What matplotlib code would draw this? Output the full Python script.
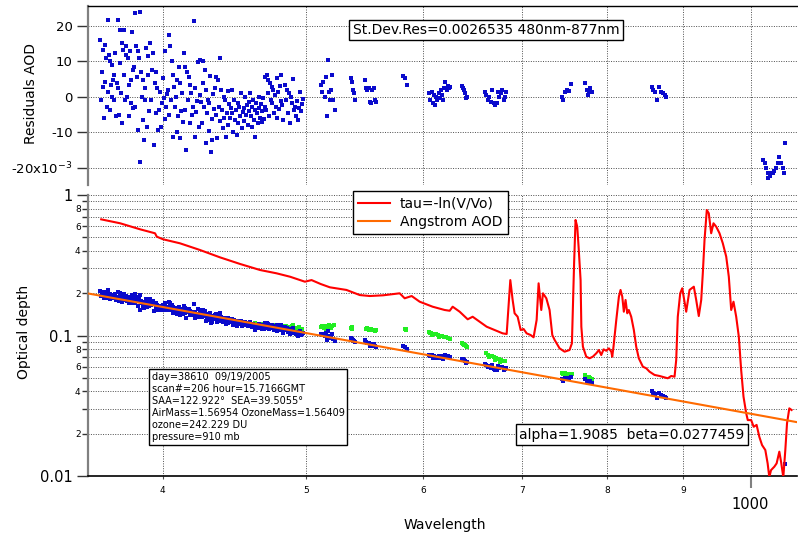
import numpy as np
import matplotlib.pyplot as plt
from matplotlib.ticker import FixedLocator, FixedFormatter
from matplotlib.lines import Line2D

plt.rcParams['font.family'] = 'DejaVu Sans'

# Angstrom fit shown in the annotation box
alpha = 1.9085
beta = 0.0277459

# Residuals of the fit (units of 1e-3) at each channel wavelength (nm)
resid_wl = [
    # 363-373
    363.0, 363.4, 363.8, 364.2, 364.6, 365.0, 365.4, 365.8, 366.2, 366.6, 367.0, 367.4,
    367.8, 368.2, 368.6, 369.0, 369.4, 369.8, 370.2, 370.6, 371.0, 371.4, 371.8, 372.3,
    # 373-382
    372.8, 373.2, 373.6, 374.0, 374.4, 374.8, 375.2, 375.6, 376.0, 376.4, 376.8, 377.2,
    377.6, 378.0, 378.4, 378.8, 379.2, 379.6, 380.0, 380.4, 380.8, 381.2, 381.6, 382.0,
    # 382-392
    382.4, 382.9, 383.3, 383.7, 384.2, 384.6, 385.0, 385.5, 385.9, 386.3, 386.7, 387.2,
    387.6, 388.0, 388.5, 388.9, 389.3, 389.8, 390.2, 390.7, 391.1, 391.6,
    # 392-403
    392.3, 392.8, 393.4, 393.9, 394.5, 395.0, 395.6, 396.1, 396.7, 397.2, 397.8, 398.3,
    398.9, 399.4, 400.0, 400.5, 401.1, 401.6, 402.2, 402.7,
    # 403-413
    403.2, 403.7, 404.2, 404.7, 405.2, 405.7, 406.2, 406.7, 407.2, 407.7, 408.2, 408.7,
    409.2, 409.7, 410.2, 410.7, 411.2, 411.7, 412.2, 412.7,
    # 413-424
    413.2, 413.8, 414.3, 414.9, 415.4, 416.0, 416.5, 417.1, 417.6, 418.2, 418.7, 419.3,
    419.8, 420.4, 420.9, 421.5, 422.0, 422.6, 423.1, 423.7,
    # 424-434
    424.2, 424.7, 425.2, 425.7, 426.2, 426.7, 427.2, 427.7, 428.2, 428.7, 429.2, 429.7,
    430.2, 430.7, 431.2, 431.7, 432.2, 432.7, 433.2, 433.7,
    # 434-445
    434.3, 434.8, 435.4, 435.9, 436.5, 437.0, 437.6, 438.1, 438.7, 439.2, 439.8, 440.3,
    440.9, 441.4, 442.0, 442.5, 443.1, 443.6, 444.2, 444.7,
    # 445-458
    445.3, 445.9, 446.5, 447.1, 447.7, 448.3, 448.9, 449.5, 450.1, 450.7, 451.3, 451.9,
    452.5, 453.1, 453.7, 454.3, 454.9, 455.5, 456.1, 456.7, 457.3, 457.9,
    # 458-469
    458.3, 458.9, 459.4, 460.0, 460.5, 461.1, 461.6, 462.2, 462.7, 463.3, 463.8, 464.4,
    464.9, 465.5, 466.0, 466.6, 467.1, 467.7, 468.2, 468.8,
    # 469-481
    469.2, 469.8, 470.4, 471.0, 471.6, 472.2, 472.8, 473.4, 474.0, 474.6, 475.2, 475.8,
    476.4, 477.0, 477.6, 478.2, 478.8, 479.4, 480.0, 480.6,
    # 481-498
    481.2, 482.0, 482.8, 483.6, 484.4, 485.2, 486.0, 486.8, 487.6, 488.4, 489.2, 490.0,
    490.8, 491.6, 492.4, 493.2, 494.0, 494.8, 495.6, 496.4, 497.2, 498.0,
    # isolated channel groups
    512.0, 512.9, 513.8, 514.7, 515.6, 516.5, 517.4, 518.3, 519.2, 520.1, 521.0, 521.9, 522.8,
    536.4, 537.2, 538.0, 538.8, 539.6,
    548.0, 549.1, 550.2, 551.3, 552.4, 553.5, 554.6, 555.7, 556.8, 557.9,
    581.5, 583.5, 585.5,
    606.0, 607.1, 608.2, 609.3, 610.4, 611.5, 612.6, 613.7, 614.8, 615.9, 617.0, 618.1, 619.2,
    620.3, 621.4, 622.5, 623.6, 624.7, 625.8,
    638.0, 639.0, 640.0, 641.0, 642.0, 643.0,
    661.0, 662.5, 664.0, 665.5, 667.0, 668.5, 670.0, 671.5, 673.0, 674.5, 676.0, 677.5,
    679.0, 680.5, 682.0, 683.5,
    745.0, 747.0, 749.0, 751.0, 753.0, 756.0,
    773.0, 774.5, 776.0, 777.5, 779.0, 780.5,
    857.0, 859.5, 862.0, 864.5, 867.0, 869.5, 872.0, 874.5, 877.0,
    1019.0, 1022.0, 1025.0, 1027.0, 1028.0, 1031.0, 1034.0, 1035.0, 1037.0, 1040.0, 1043.0,
    1046.0, 1049.0, 1052.0, 1053.0, 1055.6,
]
resid_e3 = [
    16.1, -0.8, 7.1, 13.2, 2.9, -6.0, 14.6, 4.3, 10.9, -2.7, 1.5, 21.7,
    11.8, -3.7, 10.0, 3.4, 9.0, 0.1, 4.8, -0.8, 6.2, 12.3, -5.5, 3.8,
    2.4, 21.7, -5.1, 18.9, 9.5, 1.0, 15.1, -7.4, 13.2, 6.2, 18.9, -0.8,
    11.8, 14.2, 0.1, 10.9, -5.5, 3.4, 12.8, -1.8, 4.8, 18.4, 7.6, -3.2,
    8.5, 23.6, -2.7, 14.2, 5.7, 12.8, -9.3, 10.9, 23.8, -18.2, 7.1, 0.1,
    -6.5, 4.8, -12.1, 2.4, -0.8, 13.7, -8.4, 6.2, 11.4, -4.1,
    15.1, -0.8, 7.6, 12.3, -13.5, 3.8, 7.1, -4.6, 2.4, -9.3, -3.7, 1.5,
    -8.4, -1.8, 5.2, -0.4, -6.1, 12.9, -2.9, 0.8,
    2.0, 17.5, -5.1, 14.2, -0.8, 10.0, -11.2, 6.2, 2.9, -2.7, 0.1, -9.8,
    4.8, -5.5, 8.3, -11.6, 3.8, -3.9, 1.2, -7.0,
    12.3, -3.7, 8.5, -14.9, 7.1, -0.8, 5.7, -7.4, 3.4, 1.0, -5.1, -2.7,
    21.5, -11.2, 2.4, -4.3, -1.2, 9.8, -8.6, 0.5,
    10.5, -1.5, -7.4, 10.0, 3.8, -2.7, 7.6, -13.1, 2.0, -4.6, -0.8, -9.5,
    -1.8, 5.9, -15.4, -6.3, -12.1, 0.9, -3.4, 2.4,
    5.7, -5.1, -11.6, 4.8, -2.7, 10.9, -6.9, 2.0, -3.7, -8.8, 0.1, -6.0,
    -0.8, -11.2, -4.4, -7.9, 1.7, -2.1, -5.8, -3.0,
    2.0, -4.6, -9.8, -0.8, -6.5, -3.7, -10.7, -1.8, -7.4, -2.7, -5.5, 1.0,
    -8.8, -4.2, -3.1, -6.9, 0.1, -5.0, -2.2, -7.8, -4.0, -1.3,
    1.0, -5.5, -8.4, -2.7, -0.8, -6.5, -3.7, -11.2, -1.8, -4.6, -7.4, 0.1,
    -3.0, -5.9, -2.1, -7.0, -4.1, -0.4, -6.2, -2.9,
    5.7, -3.7, 6.2, 1.0, 4.8, -5.5, 3.8, -0.8, 2.9, -1.8, 2.0, -4.6,
    0.6, -2.7, 5.2, -6.0, 1.5, -3.3, 3.1, -1.1,
    6.2, -2.3, -6.5, 3.4, -0.8, 2.0, -4.6, 1.0, -7.4, 0.1, -1.8, 5.0,
    -3.7, -2.7, -5.5, -1.2, -6.6, -3.0, 1.5, -4.1, -2.0, -0.6,
    3.4, 1.5, 4.3, 0.1, 5.7, -5.5, 10.4, 1.5, -0.8, 2.0, 6.2, -0.8, -3.7,
    5.3, 4.3, 2.0, 1.0, -0.8,
    4.8, 2.4, 2.0, 2.4, -1.3, -1.8, 2.0, 2.4, -0.8, -1.3,
    5.9, 5.3, 3.4,
    1.0, -0.8, 1.5, -1.8, 0.6, -2.3, 0.1, -0.8, 1.0, -0.4, 2.0, 0.6, -0.8,
    2.4, 4.3, 2.0, 3.1, 2.4, 2.9,
    3.1, 2.4, 2.0, 1.0, -0.4, 0.1,
    1.5, 0.6, -0.8, 0.1, -1.3, 2.0, -1.8, -2.3, -1.8, 1.5, 0.1, 1.0,
    2.0, -0.8, 0.1, 1.5,
    0.1, -0.8, 1.5, 2.0, 1.8, 3.7,
    3.8, 2.0, 0.6, 1.5, 2.4, 1.5,
    2.7, 2.0, 1.5, -0.8, 2.7, 1.5, 1.0, 0.6, 0.1,
    -17.7, -18.7, -20.1, -22.9, -21.5, -22.4, -21.3, -21.5, -20.8, -20.1, -18.7,
    -16.8, -18.7, -20.1, -21.5, -12.9,
]

# AOD before ozone correction (green points)
green_wl = [
    458, 462, 466, 470, 473, 476, 478, 479, 482, 484, 485, 487, 489, 490, 491, 493, 495, 497,
    512, 513, 514, 515, 516, 517, 518, 519, 520, 521, 522,
    536.5, 537, 537.5,
    549, 550, 551, 552, 553, 554, 555, 556, 557, 558,
    583.5, 584, 584.5,
    606, 607, 608, 609, 610, 612, 614, 615, 616, 618, 620, 622, 624, 626,
    638, 639, 640, 641, 642, 643,
    662, 664, 665, 666, 668, 670, 671, 672, 674, 676, 677, 678, 680, 682,
    745, 747, 749, 751, 753, 755, 757,
    773, 775, 777, 779, 781,
]
green_aod = [
    0.124, 0.122, 0.121, 0.120, 0.118, 0.118, 0.115, 0.117, 0.116, 0.114, 0.117, 0.115, 0.116, 0.118,
    0.114, 0.113, 0.115, 0.112,
    0.115, 0.117, 0.113, 0.116, 0.112, 0.114, 0.118, 0.115, 0.113, 0.116, 0.119,
    0.114, 0.112, 0.115,
    0.112, 0.113, 0.111, 0.110, 0.112, 0.110, 0.109, 0.110, 0.108, 0.109,
    0.112, 0.110, 0.111,
    0.106, 0.104, 0.105, 0.101, 0.103, 0.102, 0.101, 0.098, 0.100, 0.099, 0.098, 0.097, 0.096, 0.095,
    0.088, 0.087, 0.086, 0.085, 0.084, 0.083,
    0.075, 0.073, 0.070, 0.072, 0.071, 0.070, 0.067, 0.069, 0.068, 0.068, 0.065, 0.067, 0.066, 0.066,
    0.054, 0.053, 0.054, 0.052, 0.053, 0.052, 0.053,
    0.052, 0.050, 0.051, 0.050, 0.049,
]

# Total optical depth tau=-ln(V/Vo)
tau_wl = [
    363.4, 374.3, 386.1, 395.2, 396.3, 400.2, 410.9, 423.9, 437.3, 451.2,
    465.5, 477.6, 487.8, 499.2, 504.4, 511.6, 519.0, 532.6, 543.8, 552.3,
    563.9, 578.7, 583.2, 589.6, 597.0, 609.2, 620.7, 625.6, 628.5, 635.4,
    643.4, 648.4, 655.5, 662.7, 671.0, 679.4, 683.7, 687.6, 690.1, 692.2,
    695.5, 698.8, 702.0, 705.3, 709.7, 713.0, 716.4, 718.6, 721.6, 723.5,
    727.3, 731.0, 734.1, 736.8, 742.5, 748.3, 754.1, 756.9, 758.0, 759.5,
    761.2, 763.2, 764.8, 767.2, 768.1, 770.0, 774.0, 778.0, 782.0, 786.2,
    789.4, 792.3, 795.2, 798.5, 801.8, 804.8, 806.0, 807.6, 811.1, 814.4,
    816.5, 818.7, 820.7, 822.9, 825.1, 827.1, 830.2, 833.6, 836.7, 840.1,
    845.4, 849.9, 854.2, 860.9, 867.7, 874.4, 878.9, 883.6, 888.2, 890.5,
    892.7, 896.1, 898.9, 904.5, 909.2, 915.3, 918.7, 922.4, 925.9, 928.2,
    930.7, 934.0, 936.9, 940.4, 943.8, 947.8, 952.7, 957.6, 962.7, 966.6,
    970.2, 973.7, 977.8, 981.8, 985.4, 989.0, 993.2, 995.6, 1000.9, 1004.8,
    1009.4, 1013.7, 1018.0, 1023.2, 1026.9, 1029.6, 1032.3, 1037.7, 1041.4, 1045.8,
    1048.6, 1052.3, 1055.6, 1058.4, 1062.2, 1066.0,
]
tau_val = [
    0.671, 0.629, 0.570, 0.534, 0.505, 0.484, 0.453, 0.406, 0.360, 0.323,
    0.2925, 0.2771, 0.262, 0.2415, 0.248, 0.2326, 0.2203, 0.211, 0.194, 0.191,
    0.1932, 0.1997, 0.184, 0.191, 0.174, 0.1603, 0.1519, 0.150, 0.1603, 0.1477,
    0.1304, 0.136, 0.1254, 0.1155, 0.1094, 0.1036, 0.1025, 0.248, 0.179, 0.1439,
    0.136, 0.1094, 0.1112, 0.1036, 0.1008, 0.0971, 0.129, 0.2352, 0.1519, 0.1997,
    0.184, 0.1519, 0.1008, 0.0929, 0.0810, 0.0767, 0.0788, 0.088, 0.1519, 0.33,
    0.664, 0.595, 0.4286, 0.248, 0.1155, 0.0832, 0.0707, 0.0688, 0.0707, 0.0747,
    0.0788, 0.0726, 0.0797, 0.0779, 0.0810, 0.0767, 0.0707, 0.0832, 0.129, 0.1889,
    0.211, 0.1889, 0.1477, 0.179, 0.1439, 0.1519, 0.136, 0.1094, 0.0832, 0.0688,
    0.060, 0.0584, 0.0553, 0.0524, 0.0515, 0.0504, 0.0496, 0.0515, 0.0509, 0.0669,
    0.136, 0.1997, 0.2168, 0.1477, 0.211, 0.2225, 0.179, 0.1376, 0.179, 0.2771,
    0.478, 0.782, 0.741, 0.534, 0.629, 0.595, 0.534, 0.453, 0.364, 0.262,
    0.1519, 0.174, 0.136, 0.0981, 0.0568, 0.0367, 0.0279, 0.0250, 0.0250, 0.0224,
    0.0231, 0.0190, 0.0166, 0.0153, 0.0123, 0.0098, 0.0110, 0.01165, 0.0123, 0.0149,
    0.01264, 0.0098, 0.0153, 0.0237, 0.0303, 0.0295,
]

x_minor_ticks = [400, 500, 600, 700, 800, 900]
x_minor_labels = ['4', '5', '6', '7', '8', '9']
x_major_ticks = [1000]
x_major_labels = ['1000']
res_ticks = [-20, -10, 0, 10, 20]
res_labels = ['-20x10$^{-3}$', '-10', '0', '10', '20']
od_major_ticks = [0.01, 0.1, 1]
od_major_labels = ['0.01', '0.1', '1']
od_minor_ticks = [0.02, 0.03, 0.04, 0.05, 0.06, 0.07, 0.08, 0.09,
                  0.2, 0.3, 0.4, 0.5, 0.6, 0.7, 0.8, 0.9]
od_minor_labels = ['2', '', '4', '', '6', '', '8', '',
                   '2', '', '4', '', '6', '', '8', '']

info_lines = [
    "day=38610  09/19/2005",
    "scan#=206 hour=15.7166GMT",
    "SAA=122.922°  SEA=39.5055°",
    "AirMass=1.56954 OzoneMass=1.56409",
    "ozone=242.229 DU",
    "pressure=910 mb",
]

BLUE = '#0a0acc'
GREEN = '#22ee22'
RED = '#ff0000'
ORANGE = '#ff6a00'
GRID = dict(color='0.3', linewidth=0.7, linestyle=(0, (1, 1.5)))

W, H = 798, 538


def box(left, top, right, bottom):
    # pixel box -> figure fraction rect
    return [left / W, 1 - bottom / H, (right - left) / W, (bottom - top) / H]


fig = plt.figure(figsize=(W / 100, H / 100), dpi=100)
ax_res = fig.add_axes(box(88, 6, 797, 185))
ax_od = fig.add_axes(box(88, 195, 797, 476), sharex=ax_res)

xlim = (356, 1075)
for ax in (ax_res, ax_od):
    ax.set_xscale('log')
ax_od.set_xlim(*xlim)

# fitted line and measured AOD (fit + residual)
wl = np.array(resid_wl)
res = np.array(resid_e3)
fit_wl = np.array(xlim, dtype=float)
fit_line = beta * (fit_wl / 1000.0) ** (-alpha)
aod_meas = beta * (wl / 1000.0) ** (-alpha) + res * 1e-3

# --- residual panel ---
ax_res.plot(wl, res, 's', ms=2.2, mew=0, color=BLUE, zorder=3)
ax_res.set_ylim(-24.8, 25.6)
ax_res.set_yticks(res_ticks)
ax_res.set_yticklabels(res_labels)
ax_res.tick_params(axis='y', which='major', length=8, width=1, color='0.2',
                   labelsize=9.5, pad=3)
ax_res.tick_params(axis='x', which='both', bottom=False, labelbottom=False)
ax_res.grid(True, axis='y', which='major', **GRID)
ax_res.grid(True, axis='x', which='both', **GRID)
ax_res.spines['right'].set_visible(False)
ax_res.spines['bottom'].set_visible(False)
ax_res.spines['top'].set_color('black')
ax_res.spines['top'].set_linewidth(1.0)
ax_res.spines['left'].set_color('0.5')
ax_res.spines['left'].set_linewidth(1.6)

# --- optical depth panel ---
ax_od.set_yscale('log')
ax_od.set_ylim(0.01, 1)
ax_od.plot(green_wl, green_aod, 's', ms=2.2, mew=0, color=GREEN, zorder=2)
ax_od.plot(wl, aod_meas, 's', ms=2.2, mew=0, color=BLUE, zorder=3)
ax_od.plot(tau_wl, tau_val, color=RED, lw=1.5, zorder=4)
ax_od.plot(fit_wl, fit_line, color=ORANGE, lw=1.5, zorder=5)

ax_od.xaxis.set_major_locator(FixedLocator(x_major_ticks))
ax_od.xaxis.set_major_formatter(FixedFormatter(x_major_labels))
ax_od.xaxis.set_minor_locator(FixedLocator(x_minor_ticks))
ax_od.xaxis.set_minor_formatter(FixedFormatter(x_minor_labels))
ax_od.yaxis.set_major_locator(FixedLocator(od_major_ticks))
ax_od.yaxis.set_major_formatter(FixedFormatter(od_major_labels))
ax_od.yaxis.set_minor_locator(FixedLocator(od_minor_ticks))
ax_od.yaxis.set_minor_formatter(FixedFormatter(od_minor_labels))

ax_od.tick_params(axis='x', which='major', length=8.6, width=1.5, color='0.5',
                  labelsize=10.5, pad=6.5)
ax_od.tick_params(axis='x', which='minor', length=2.5, width=0.8, color='0.3',
                  labelsize=6.5, pad=5)
ax_od.tick_params(axis='y', which='major', length=8, width=1, color='0.2',
                  labelsize=10.5, pad=3)
ax_od.tick_params(axis='y', which='minor', length=4.3, width=1, color='0.2',
                  labelsize=6.5, pad=1)
ax_od.grid(True, which='both', **GRID)
ax_od.spines['right'].set_visible(False)
ax_od.spines['top'].set_visible(False)
ax_od.spines['bottom'].set_color('black')
ax_od.spines['bottom'].set_linewidth(1.2)
ax_od.spines['left'].set_color('0.5')
ax_od.spines['left'].set_linewidth(1.6)

handles = [Line2D([], [], color=RED, lw=1.5), Line2D([], [], color=ORANGE, lw=1.5)]
leg = ax_od.legend(handles, ['tau=-ln(V/Vo)', 'Angstrom AOD'], loc='upper left',
                   bbox_to_anchor=(0.3733, 1.0142), borderaxespad=0, fontsize=10,
                   fancybox=False, edgecolor='black', framealpha=1, borderpad=0.4,
                   handlelength=2.3, handletextpad=0.7, labelspacing=0.3)
leg.get_frame().set_linewidth(1.0)

# axis titles
fig.text(31 / W, 1 - 93 / H, 'Residuals AOD', rotation=90, ha='center', va='center', fontsize=10)
fig.text(24 / W, 1 - 332 / H, 'Optical depth', rotation=90, ha='center', va='center', fontsize=10)
fig.text(445 / W, 1 - 525 / H, 'Wavelength', ha='center', va='center', fontsize=10)

# annotation boxes
fig.text(486 / W, 1 - 30 / H, 'St.Dev.Res=0.0026535 480nm-877nm', ha='center', va='center',
         fontsize=10, bbox=dict(boxstyle='square,pad=0.25', fc='white', ec='black', lw=1))
fig.text(151.5 / W, 1 - 371.5 / H, '\n'.join(info_lines), ha='left', va='top',
         fontsize=7, linespacing=1.27,
         bbox=dict(boxstyle='square,pad=0.25', fc='white', ec='black', lw=1))
fig.text(632 / W, 1 - 434.5 / H, 'alpha=1.9085  beta=0.0277459', ha='center', va='center',
         fontsize=10, bbox=dict(boxstyle='square,pad=0.25', fc='white', ec='black', lw=1))

fig.savefig('out.png', dpi=100)
